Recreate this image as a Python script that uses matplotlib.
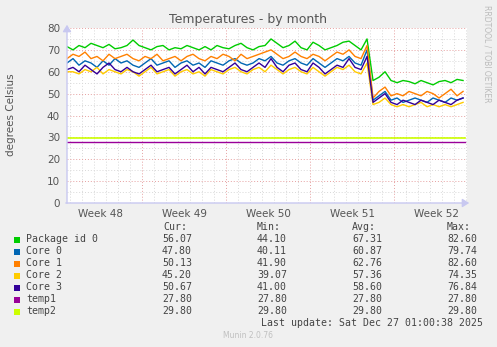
import numpy as np
import matplotlib
matplotlib.use("Agg")
import matplotlib.pyplot as plt
from matplotlib.ticker import MultipleLocator

# time in days since Mon Nov 24 2025 (start of week 48), one sample every half day
days = np.arange(0.75, 34.0, 0.5)

week_labels = ["Week 48", "Week 49", "Week 50", "Week 51", "Week 52"]
week_centers = [3.5, 10.5, 17.5, 24.5, 31.5]

package0 = [71.5, 70.0, 72.0, 71.0, 73.0, 72.0, 71.0, 72.5, 70.5, 71.0,
            72.0, 74.5, 72.0, 71.0, 70.0, 71.5, 72.0, 70.0, 71.0, 70.5,
            72.0, 71.0, 70.0, 71.5, 70.0, 72.0, 71.0, 70.5, 72.0, 73.0,
            71.0, 70.0, 71.5, 72.0, 75.0, 73.0, 71.0, 72.0, 74.0, 71.0,
            70.0, 73.5, 72.0, 70.0, 71.0, 72.0, 73.5, 74.0, 72.0, 70.0,
            75.0,
            56.0, 57.5, 60.0, 56.0, 55.0, 56.0, 55.5, 54.5, 56.0, 55.0,
            54.0, 55.5, 56.0, 55.0, 56.5, 56.0]
core0 = [64, 66, 63, 65, 64, 62, 65, 63, 66, 64,
         65, 63, 62, 64, 66, 63, 64, 65, 62, 64,
         65, 63, 64, 62, 65, 64, 63, 65, 66, 64,
         63, 64, 66, 65, 67, 64, 63, 65, 66, 64,
         63, 66, 64, 62, 64, 66, 65, 67, 64, 63,
         70,
         47, 49, 51, 47, 48, 46, 47, 48, 47, 46,
         48, 47, 46, 48, 47, 48]
core1 = [66, 68, 67, 69, 66, 67, 65, 68, 66, 67,
         68, 66, 65, 67, 66, 68, 65, 66, 67, 65,
         67, 68, 66, 65, 67, 66, 68, 67, 65, 68,
         66, 67, 68, 69, 70, 68, 66, 67, 69, 67,
         66, 68, 67, 65, 67, 69, 68, 70, 67, 66,
         72,
         48, 51, 53, 49, 50, 49, 51, 50, 49, 51,
         50, 48, 50, 52, 49, 51]
core2 = [60, 60, 59, 61, 60, 62, 59, 61, 60, 59,
         61, 60, 58, 60, 62, 59, 60, 61, 58, 60,
         61, 59, 60, 58, 61, 60, 59, 61, 62, 60,
         59, 61, 62, 60, 63, 61, 59, 61, 62, 60,
         59, 62, 60, 58, 60, 62, 61, 63, 60, 59,
         64,
         45, 46, 48, 45, 44, 45, 44, 45, 46, 44,
         45, 44, 45, 44, 45, 46]
core3 = [61, 62, 60, 63, 61, 59, 62, 64, 61, 60,
         62, 60, 59, 61, 63, 60, 61, 62, 59, 61,
         63, 60, 62, 59, 62, 61, 60, 62, 64, 61,
         60, 62, 64, 62, 66, 62, 60, 63, 64, 61,
         60, 64, 62, 59, 61, 63, 62, 66, 62, 61,
         67,
         46, 48, 50, 46, 45, 47, 46, 45, 47, 46,
         45, 47, 46, 45, 47, 48]
temp1 = [27.8, 27.8]
temp2 = [29.8, 29.8]

names = ["Package id 0", "Core 0", "Core 1", "Core 2", "Core 3", "temp1", "temp2"]
colors = ["#00CC00", "#0066B3", "#FF8000", "#FFCC00", "#330099", "#990099", "#CCFF00"]
cur = ["56.07", "47.80", "50.13", "45.20", "50.67", "27.80", "29.80"]
mins = ["44.10", "40.11", "41.90", "39.07", "41.00", "27.80", "29.80"]
avgs = ["67.31", "60.87", "62.76", "57.36", "58.60", "27.80", "29.80"]
maxs = ["82.60", "79.74", "82.60", "74.35", "76.84", "27.80", "29.80"]

W, H = 497, 347
fig = plt.figure(figsize=(W / 100, H / 100), dpi=100, facecolor="#F0F0F0")


def fx(x):
    return x / W


def fy(y):
    return 1 - y / H


ax = fig.add_axes([fx(67), fy(203), fx(400), 175 / H])
ax.set_facecolor("white")
xmin, xmax = 0.75, 34.08
ax.set_xlim(xmin, xmax)
ax.set_ylim(0, 80)

# grid: gray dotted minor, red dotted major
for d in range(1, 35):
    if d % 7 == 0:
        ax.axvline(d, color="#E6A0A0", lw=0.7, ls=(0, (1, 2)), zorder=1)
    else:
        ax.axvline(d, color="#D8D8D8", lw=0.7, ls=(0, (1, 2)), zorder=0)
for v in range(5, 81, 5):
    if v % 10 == 0:
        ax.axhline(v, color="#E6A0A0", lw=0.7, ls=(0, (1, 2)), zorder=1)
    else:
        ax.axhline(v, color="#D8D8D8", lw=0.7, ls=(0, (1, 2)), zorder=0)

series = [package0, core0, core1, core2, core3]
for vals, c in zip(series, colors[:5]):
    ax.plot(days, vals, color=c, lw=1.0, zorder=3)
ax.plot([xmin, 33.9], temp1, color=colors[5], lw=1.0, zorder=3)
ax.plot([xmin, 33.9], temp2, color=colors[6], lw=1.2, zorder=3)

for s in ax.spines.values():
    s.set_visible(False)
ax.yaxis.set_major_locator(MultipleLocator(10))
ax.set_xticks(week_centers)
ax.set_xticklabels(week_labels)
ax.tick_params(axis="both", length=0, labelsize=7.5, labelcolor="#555555")
ax.tick_params(axis="x", pad=4)
ax.tick_params(axis="y", pad=5)
fig.text(fx(11), fy(115), "degrees Celsius", rotation=90, ha="center", va="center",
         fontsize=7.5, color="#555555")

# axis arrows
arrow_c = "#C8C8F0"
fig.add_artist(matplotlib.patches.FancyArrowPatch(
    (fx(67), fy(206)), (fx(67), fy(22)), transform=fig.transFigure,
    arrowstyle="-|>,head_length=4,head_width=2.5", color=arrow_c, lw=1))
fig.add_artist(matplotlib.patches.FancyArrowPatch(
    (fx(63), fy(203)), (fx(472), fy(203)), transform=fig.transFigure,
    arrowstyle="-|>,head_length=4,head_width=2.5", color=arrow_c, lw=1))

fig.text(fx(248), fy(19), "Temperatures - by month", ha="center", va="center",
         fontsize=9, color="#555555")
fig.text(fx(487), fy(54), "RRDTOOL / TOBI OETIKER", rotation=270, ha="center",
         va="center", fontsize=5.5, color="#BBBBBB")

mono = "DejaVu Sans Mono"
fs = 7.1
tc = "#444444"
y0 = 227.5
dy = 12.0
for lbl, xl in zip(["Cur:", "Min:", "Avg:", "Max:"], [163, 257, 352, 447]):
    fig.text(fx(xl), fy(y0), lbl, family=mono, fontsize=fs, color=tc, va="center")
for i, n in enumerate(names):
    yy = y0 + dy * (i + 1)
    fig.add_artist(matplotlib.patches.Rectangle(
        (fx(14), fy(yy + 3)), fx(6), 6 / H, transform=fig.transFigure,
        facecolor=colors[i], edgecolor="none"))
    fig.text(fx(26), fy(yy), n, family=mono, fontsize=fs, color=tc, va="center")
    for col, xr in zip([cur, mins, avgs, maxs], [192, 287, 382, 477]):
        fig.text(fx(xr), fy(yy), col[i], family=mono, fontsize=fs, color=tc,
                 va="center", ha="right")
fig.text(fx(483), fy(323), "Last update: Sat Dec 27 01:00:38 2025", family=mono,
         fontsize=fs, color=tc, va="center", ha="right")
fig.text(fx(248), fy(336), "Munin 2.0.76", fontsize=5.5, color="#C0C0C0",
         ha="center", va="center")

fig.savefig("out.png", dpi=100, facecolor=fig.get_facecolor())
